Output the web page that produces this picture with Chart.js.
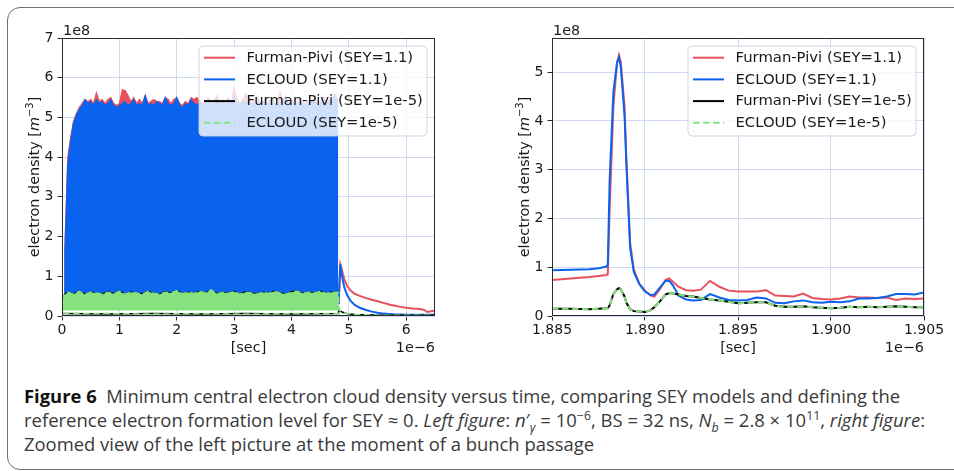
<!DOCTYPE html>
<html>
<head>
<meta charset="utf-8">
<script src="https://cdn.jsdelivr.net/npm/chart.js@4.4.0/dist/chart.umd.min.js"></script>
<style>
  body { margin: 0; width: 954px; height: 471px; overflow: hidden; background: #fff; position: relative; }
  #frame { position: absolute; left: 7px; top: 7px; width: 1000px; height: 463px; box-sizing: border-box;
           border: 1.5px solid #6f6f6f; border-radius: 13px; }
  #left { position: absolute; left: 0; top: 0; }
  #right { position: absolute; left: 480px; top: 0; }
  .cap { position: absolute; left: 24px; white-space: nowrap; font-family: "Open Sans"; font-size: 18px;
         line-height: 24px; color: #3a3a3a; transform-origin: 0 0; }
  .cap b { color: #111; font-weight: 700; }
  .cap sup, .cap sub { font-size: 12px; line-height: 0; }
</style>
</head>
<body>
<div id="frame"></div>
<canvas id="left" width="480" height="360"></canvas>
<canvas id="right" width="474" height="360"></canvas>
<div class="cap" data-w="876" style="top:384px"><b>Figure 6</b>&nbsp; Minimum central electron cloud density versus time, comparing SEY models and defining the</div>
<div class="cap" data-w="901" style="top:408px">reference electron formation level for SEY ≈ 0. <i>Left figure</i>: <i>n</i>′<sub><i>γ</i></sub> = 10<sup>−6</sup>, BS = 32 ns, <i>N<sub>b</sub></i> = 2.8 × 10<sup>11</sup>, <i>right figure</i>:</div>
<div class="cap" data-w="570" style="top:432px">Zoomed view of the left picture at the moment of a bunch passage</div>
<script>
// series shared by both panels
const seriesLabels = ['Furman-Pivi (SEY=1.1)', 'ECLOUD (SEY=1.1)', 'Furman-Pivi (SEY=1e-5)', 'ECLOUD (SEY=1e-5)'];

// left panel, times in 1e-6 s, densities in 1e8 m^-3
// SEY=1.1 curves oscillate bunch by bunch: kept as the upper envelope of the filled block
const bandT = [0.05,0.10,0.15,0.20,0.25,0.30,0.35,0.40,0.45,0.50,0.55,0.60,0.65,0.70,0.75,0.80,0.85,0.90,0.95,1.00,
  1.05,1.10,1.15,1.20,1.25,1.30,1.35,1.40,1.45,1.50,1.55,1.60,1.65,1.70,1.75,1.80,1.85,1.90,1.95,2.00,
  2.05,2.10,2.15,2.20,2.25,2.30,2.35,2.40,2.45,2.50,2.55,2.60,2.65,2.70,2.75,2.80,2.85,2.90,2.95,3.00,
  3.05,3.10,3.15,3.20,3.25,3.30,3.35,3.40,3.45,3.50,3.55,3.60,3.65,3.70,3.75,3.80,3.85,3.90,3.95,4.00,
  4.05,4.10,4.15,4.20,4.25,4.30,4.35,4.40,4.45,4.50,4.55,4.60,4.65,4.70,4.75,4.80];
const fpBandTop = [1.75,4.0,4.5,4.9,5.1,5.25,5.35,5.45,5.4,5.45,5.35,5.62,5.4,5.45,5.35,5.45,5.5,5.35,5.3,5.35,
  5.7,5.68,5.55,5.4,5.5,5.35,5.45,5.35,5.55,5.35,5.4,5.45,5.4,5.4,5.35,5.5,5.45,5.35,5.45,5.5,
  5.35,5.3,5.4,5.35,5.5,5.45,5.5,5.4,5.35,5.4,5.5,5.35,5.45,5.55,5.35,5.45,5.4,5.5,5.35,5.75,
  5.45,5.35,5.45,5.6,5.5,5.35,5.4,5.55,5.35,5.4,5.45,5.35,5.5,5.4,5.35,5.65,5.4,5.55,5.35,5.4,
  5.45,5.35,5.5,5.4,5.35,5.45,5.4,5.5,5.35,5.4,5.55,5.35,5.45,5.4,5.6,5.45];
const ecBandTop = [1.6,3.8,4.4,4.85,5.05,5.2,5.3,5.45,5.35,5.4,5.3,5.45,5.35,5.4,5.3,5.35,5.45,5.3,5.25,5.3,
  5.35,5.4,5.3,5.35,5.45,5.3,5.35,5.3,5.55,5.3,5.35,5.3,5.4,5.35,5.3,5.5,5.35,5.3,5.35,5.5,
  5.3,5.25,5.35,5.3,5.45,5.35,5.3,5.4,5.3,5.35,5.45,5.3,5.35,5.5,5.3,5.4,5.35,5.45,5.3,5.55,
  5.35,5.3,5.4,5.35,5.45,5.3,5.35,5.5,5.3,5.35,5.4,5.3,5.45,5.35,5.3,5.4,5.35,5.5,5.3,5.35,
  5.4,5.3,5.45,5.35,5.3,5.4,5.35,5.45,5.3,5.35,5.5,5.3,5.4,5.35,5.55,5.4];
const bandFloor = 0.4;
const tailT = [4.82,4.85,4.88,4.92,4.97,5.03,5.1,5.2,5.3,5.4,5.5,5.6,5.7,5.8,5.9,6.0,6.1,6.2,6.3,6.37,6.43,6.5];
const fpTail = [0.3,1.3,1.15,0.92,0.75,0.64,0.56,0.5,0.45,0.41,0.37,0.33,0.29,0.26,0.23,0.21,0.19,0.18,0.16,0.1,0.12,0.14];
const ecTail = [0.3,1.3,1.0,0.72,0.52,0.38,0.28,0.2,0.15,0.11,0.08,0.06,0.05,0.04,0.04,0.03,0.03,0.03,0.03,0.03,0.03,0.03];

// SEY=1e-5 curves: top and bottom of their block, then the decay
const lowT = [0.02,0.1,0.2,0.3,0.4,0.5,0.6,0.7,0.8,0.9,1.0,1.1,1.2,1.3,1.4,1.5,1.6,1.7,1.8,1.9,2.0,2.1,2.2,2.3,2.4,
  2.5,2.6,2.7,2.8,2.9,3.0,3.1,3.2,3.3,3.4,3.5,3.6,3.7,3.8,3.9,4.0,4.1,4.2,4.3,4.4,4.5,4.6,4.7,4.82];
const fp5Top = [0.5,0.6,0.55,0.62,0.55,0.6,0.58,0.55,0.61,0.56,0.62,0.55,0.6,0.58,0.55,0.62,0.57,0.55,0.61,0.58,0.64,0.56,0.6,0.57,0.62,
  0.58,0.65,0.56,0.6,0.57,0.62,0.55,0.61,0.58,0.55,0.6,0.57,0.62,0.58,0.55,0.61,0.62,0.57,0.6,0.58,0.62,0.57,0.6,0.6];
const ec5Top = [0.5,0.6,0.55,0.62,0.55,0.6,0.58,0.55,0.6,0.56,0.62,0.55,0.6,0.58,0.55,0.62,0.57,0.55,0.6,0.58,0.64,0.56,0.6,0.57,0.62,
  0.58,0.66,0.56,0.6,0.57,0.62,0.55,0.6,0.58,0.55,0.6,0.57,0.62,0.58,0.55,0.6,0.62,0.57,0.6,0.58,0.62,0.57,0.6,0.6];
const lowFloor = 0.14;
const edgeT = [0.02,0.8,1.6,2.4,3.2,4.0,4.82];
const fp5Edge = [0.06,0.05,0.06,0.05,0.06,0.05,0.06];
const ec5Edge = [0.06,0.06,0.05,0.06,0.05,0.06,0.06];
const tail5T = [4.82,4.84,4.88,4.94,5.0,5.1,5.3,5.6,6.0,6.5];
const fp5Tail = [0.2,0.14,0.1,0.07,0.05,0.04,0.03,0.02,0.02,0.02];
const ec5Tail = [0.22,0.15,0.1,0.07,0.05,0.04,0.03,0.02,0.02,0.02];

// right panel: one bunch passage
const rT = [1.8850,1.8860,1.8870,1.8875,1.8879,1.8880,1.8881,1.8883,1.8885,1.8886,1.8887,1.8889,1.8890,1.8892,1.8894,1.8897,
  1.8900,1.8903,1.8905,1.8908,1.8911,1.8913,1.8915,1.8918,1.8922,1.8926,1.8930,1.8935,1.8940,1.8945,1.8950,1.8955,
  1.8960,1.8965,1.8970,1.8975,1.8980,1.8985,1.8990,1.8995,1.9000,1.9005,1.9010,1.9015,1.9020,1.9025,1.9030,1.9035,
  1.9040,1.9045,1.9050];
const fpR = [0.74,0.77,0.8,0.82,0.84,0.85,2.2,4.3,5.2,5.35,5.2,4.3,3.2,1.5,0.95,0.66,
  0.52,0.42,0.4,0.55,0.74,0.77,0.7,0.6,0.53,0.52,0.54,0.72,0.6,0.52,0.5,0.5,
  0.5,0.53,0.42,0.41,0.4,0.46,0.37,0.35,0.34,0.36,0.4,0.38,0.38,0.37,0.38,0.33,
  0.36,0.35,0.36];
const ecR = [0.94,0.95,0.96,0.98,1.01,1.05,2.8,4.6,5.2,5.3,5.1,4.1,3.1,1.4,0.9,0.65,
  0.5,0.43,0.44,0.58,0.72,0.72,0.63,0.42,0.34,0.32,0.33,0.45,0.38,0.33,0.32,0.33,
  0.38,0.36,0.27,0.26,0.3,0.32,0.28,0.27,0.29,0.28,0.3,0.36,0.36,0.37,0.4,0.45,
  0.45,0.44,0.48];
const fp5R = [0.15,0.15,0.14,0.15,0.16,0.16,0.22,0.45,0.55,0.57,0.55,0.4,0.27,0.14,0.1,0.09,
  0.08,0.12,0.18,0.3,0.44,0.47,0.46,0.44,0.41,0.4,0.37,0.34,0.32,0.29,0.26,0.27,
  0.28,0.28,0.21,0.19,0.19,0.2,0.18,0.17,0.16,0.17,0.19,0.18,0.19,0.18,0.19,0.2,
  0.19,0.18,0.18];
const ec5R = [0.15,0.15,0.14,0.15,0.16,0.16,0.22,0.45,0.55,0.57,0.55,0.4,0.27,0.14,0.1,0.09,
  0.08,0.12,0.18,0.3,0.44,0.47,0.46,0.44,0.41,0.4,0.37,0.34,0.32,0.29,0.26,0.27,
  0.28,0.28,0.21,0.19,0.19,0.2,0.18,0.17,0.16,0.17,0.19,0.18,0.19,0.18,0.19,0.2,
  0.19,0.18,0.18];

const leftXTicks = [0, 1, 2, 3, 4, 5, 6];
const leftYTicks = [0, 1, 2, 3, 4, 5, 6, 7];
const rightXTicks = [1.885, 1.890, 1.895, 1.900, 1.905];
const rightYTicks = [0, 1, 2, 3, 4, 5];

// styles
const colors = ['#e8505b', '#0a63ee', '#000000', '#86e27e'];
const dashes = [[], [], [], [6.5, 3.5]];
const gridColor = '#d0d9f4';
const axisColor = '#2b2b2b';
const textColor = '#1a1a1a';
const FONT = '"DejaVu Sans"';

const pts = (xs, ys) => xs.map((x, i) => ({ x: x, y: ys[i] }));
const block = (xs, ys, floor) => [{ x: xs[0], y: floor }].concat(pts(xs, ys), [{ x: xs[xs.length - 1], y: floor }]);

function line(data, i, width, order, fill) {
  return {
    data: data, borderColor: colors[i], backgroundColor: colors[i], borderWidth: width,
    borderDash: dashes[i], fill: fill === undefined ? false : fill, order: order,
    pointRadius: 0, tension: 0
  };
}

const decor = {
  id: 'decor',
  afterDatasetsDraw(chart) {
    const ctx = chart.ctx, a = chart.chartArea;
    ctx.save();
    ctx.strokeStyle = axisColor;
    ctx.lineWidth = 1;
    ctx.strokeRect(a.left + 0.5, a.top + 0.5, a.right - a.left - 1, a.bottom - a.top - 1);

    // legend box, matplotlib style (semi-transparent)
    const bw = 228, bh = 90;
    const bx = a.right - 8 - bw, by = a.top + 8;
    ctx.beginPath();
    ctx.roundRect(bx, by, bw, bh, 4);
    ctx.fillStyle = 'rgba(255,255,255,0.8)';
    ctx.fill();
    ctx.strokeStyle = 'rgba(204,208,222,0.9)';
    ctx.stroke();
    ctx.font = '14.8px ' + FONT;
    ctx.textBaseline = 'middle';
    seriesLabels.forEach((lab, i) => {
      const y = by + 11.7 + i * 21.7;
      ctx.beginPath();
      ctx.setLineDash(dashes[i]);
      ctx.strokeStyle = colors[i];
      ctx.lineWidth = 2;
      ctx.moveTo(bx + 5, y);
      ctx.lineTo(bx + 36, y);
      ctx.stroke();
      ctx.setLineDash([]);
      ctx.fillStyle = textColor;
      ctx.fillText(lab, bx + 47.5, y + 0.5);
    });

    // offset texts and axis titles
    ctx.font = '14.4px ' + FONT;
    ctx.fillStyle = textColor;
    ctx.textBaseline = 'alphabetic';
    ctx.textAlign = 'left';
    ctx.fillText('1e8', a.left + 1, a.top - 3);
    ctx.textAlign = 'right';
    ctx.fillText('1e\u22126', a.right, 352);
    ctx.textAlign = 'center';
    ctx.fillText('[sec]', (a.left + a.right) / 2, 352);

    ctx.translate(a.left - 23.5, (a.top + a.bottom) / 2);
    ctx.rotate(-Math.PI / 2);
    ctx.textAlign = 'left';
    const p1 = 'electron density [', p3 = ']';
    ctx.font = '14.4px ' + FONT;
    const w1 = ctx.measureText(p1).width, w3 = ctx.measureText(p3).width;
    ctx.font = 'italic 14.4px ' + FONT;
    const w2 = ctx.measureText('m').width;
    ctx.font = '10px ' + FONT;
    const ws = ctx.measureText('\u22123').width;
    let x = -(w1 + w2 + ws + w3) / 2;
    ctx.font = '14.4px ' + FONT;
    ctx.fillText(p1, x, 0); x += w1;
    ctx.font = 'italic 14.4px ' + FONT;
    ctx.fillText('m', x, 0); x += w2;
    ctx.font = '10px ' + FONT;
    ctx.fillText('\u22123', x, -6); x += ws;
    ctx.font = '14.4px ' + FONT;
    ctx.fillText(p3, x, 0);
    ctx.restore();
  }
};

function options(xmin, xmax, xticks, xfmt, ymax, yticks, yWidth, padRight) {
  const tickFont = { family: 'DejaVu Sans', size: 14 };
  return {
    responsive: false,
    animation: false,
    events: [],
    layout: { padding: { left: 0, right: padRight, top: 38, bottom: 0 } },
    plugins: { legend: { display: false }, tooltip: { enabled: false } },
    scales: {
      x: {
        type: 'linear', min: xmin, max: xmax,
        afterBuildTicks: s => { s.ticks = xticks.map(v => ({ value: v })); },
        afterFit: s => { s.height = 44; },
        ticks: { callback: xfmt, font: tickFont, color: textColor, padding: 1, maxRotation: 0, autoSkip: false },
        grid: { color: gridColor, tickColor: axisColor, tickLength: 4.5, lineWidth: 1 },
        border: { display: false }
      },
      y: {
        type: 'linear', min: 0, max: ymax,
        afterBuildTicks: s => { s.ticks = yticks.map(v => ({ value: v })); },
        afterFit: s => { s.width = yWidth; },
        ticks: { callback: v => String(v), font: tickFont, color: textColor, padding: 4, autoSkip: false },
        grid: { color: gridColor, tickColor: axisColor, tickLength: 4.5, lineWidth: 1 },
        border: { display: false }
      }
    }
  };
}

new Chart(document.getElementById('left'), {
  type: 'line',
  data: {
    datasets: [
      line(block(bandT, fpBandTop, bandFloor), 0, 1.2, 8, { value: bandFloor }),
      line(pts(tailT, fpTail), 0, 2, 7),
      line(block(bandT, ecBandTop, bandFloor), 1, 1.2, 6, { value: bandFloor }),
      line(pts(tailT, ecTail), 1, 2, 5),
      line(pts(lowT, fp5Top), 2, 1.5, 4),
      line(pts(edgeT, fp5Edge).concat(pts(tail5T, fp5Tail)), 2, 1.5, 4),
      line(block(lowT, ec5Top, lowFloor), 3, 1.5, 2, { value: lowFloor }),
      line(pts(edgeT, ec5Edge).concat(pts(tail5T, ec5Tail)), 3, 1.5, 1)
    ]
  },
  options: options(0, 6.5, leftXTicks, v => String(v), 7, leftYTicks, 62, 45),
  plugins: [decor]
});

new Chart(document.getElementById('right'), {
  type: 'line',
  data: {
    datasets: [
      line(pts(rT, fpR), 0, 2, 4),
      line(pts(rT, ecR), 1, 2, 3),
      line(pts(rT, fp5R), 2, 2, 2),
      line(pts(rT, ec5R), 3, 2, 1)
    ]
  },
  options: options(1.885, 1.905, rightXTicks, v => v.toFixed(3), 5.7, rightYTicks, 72, 30),
  plugins: [decor]
});

// fit caption lines to the measured widths of the original
document.querySelectorAll('.cap').forEach(el => {
  const w = el.getBoundingClientRect().width;
  el.style.transform = 'scaleX(' + (Number(el.dataset.w) / w) + ')';
});
</script>
</body>
</html>
